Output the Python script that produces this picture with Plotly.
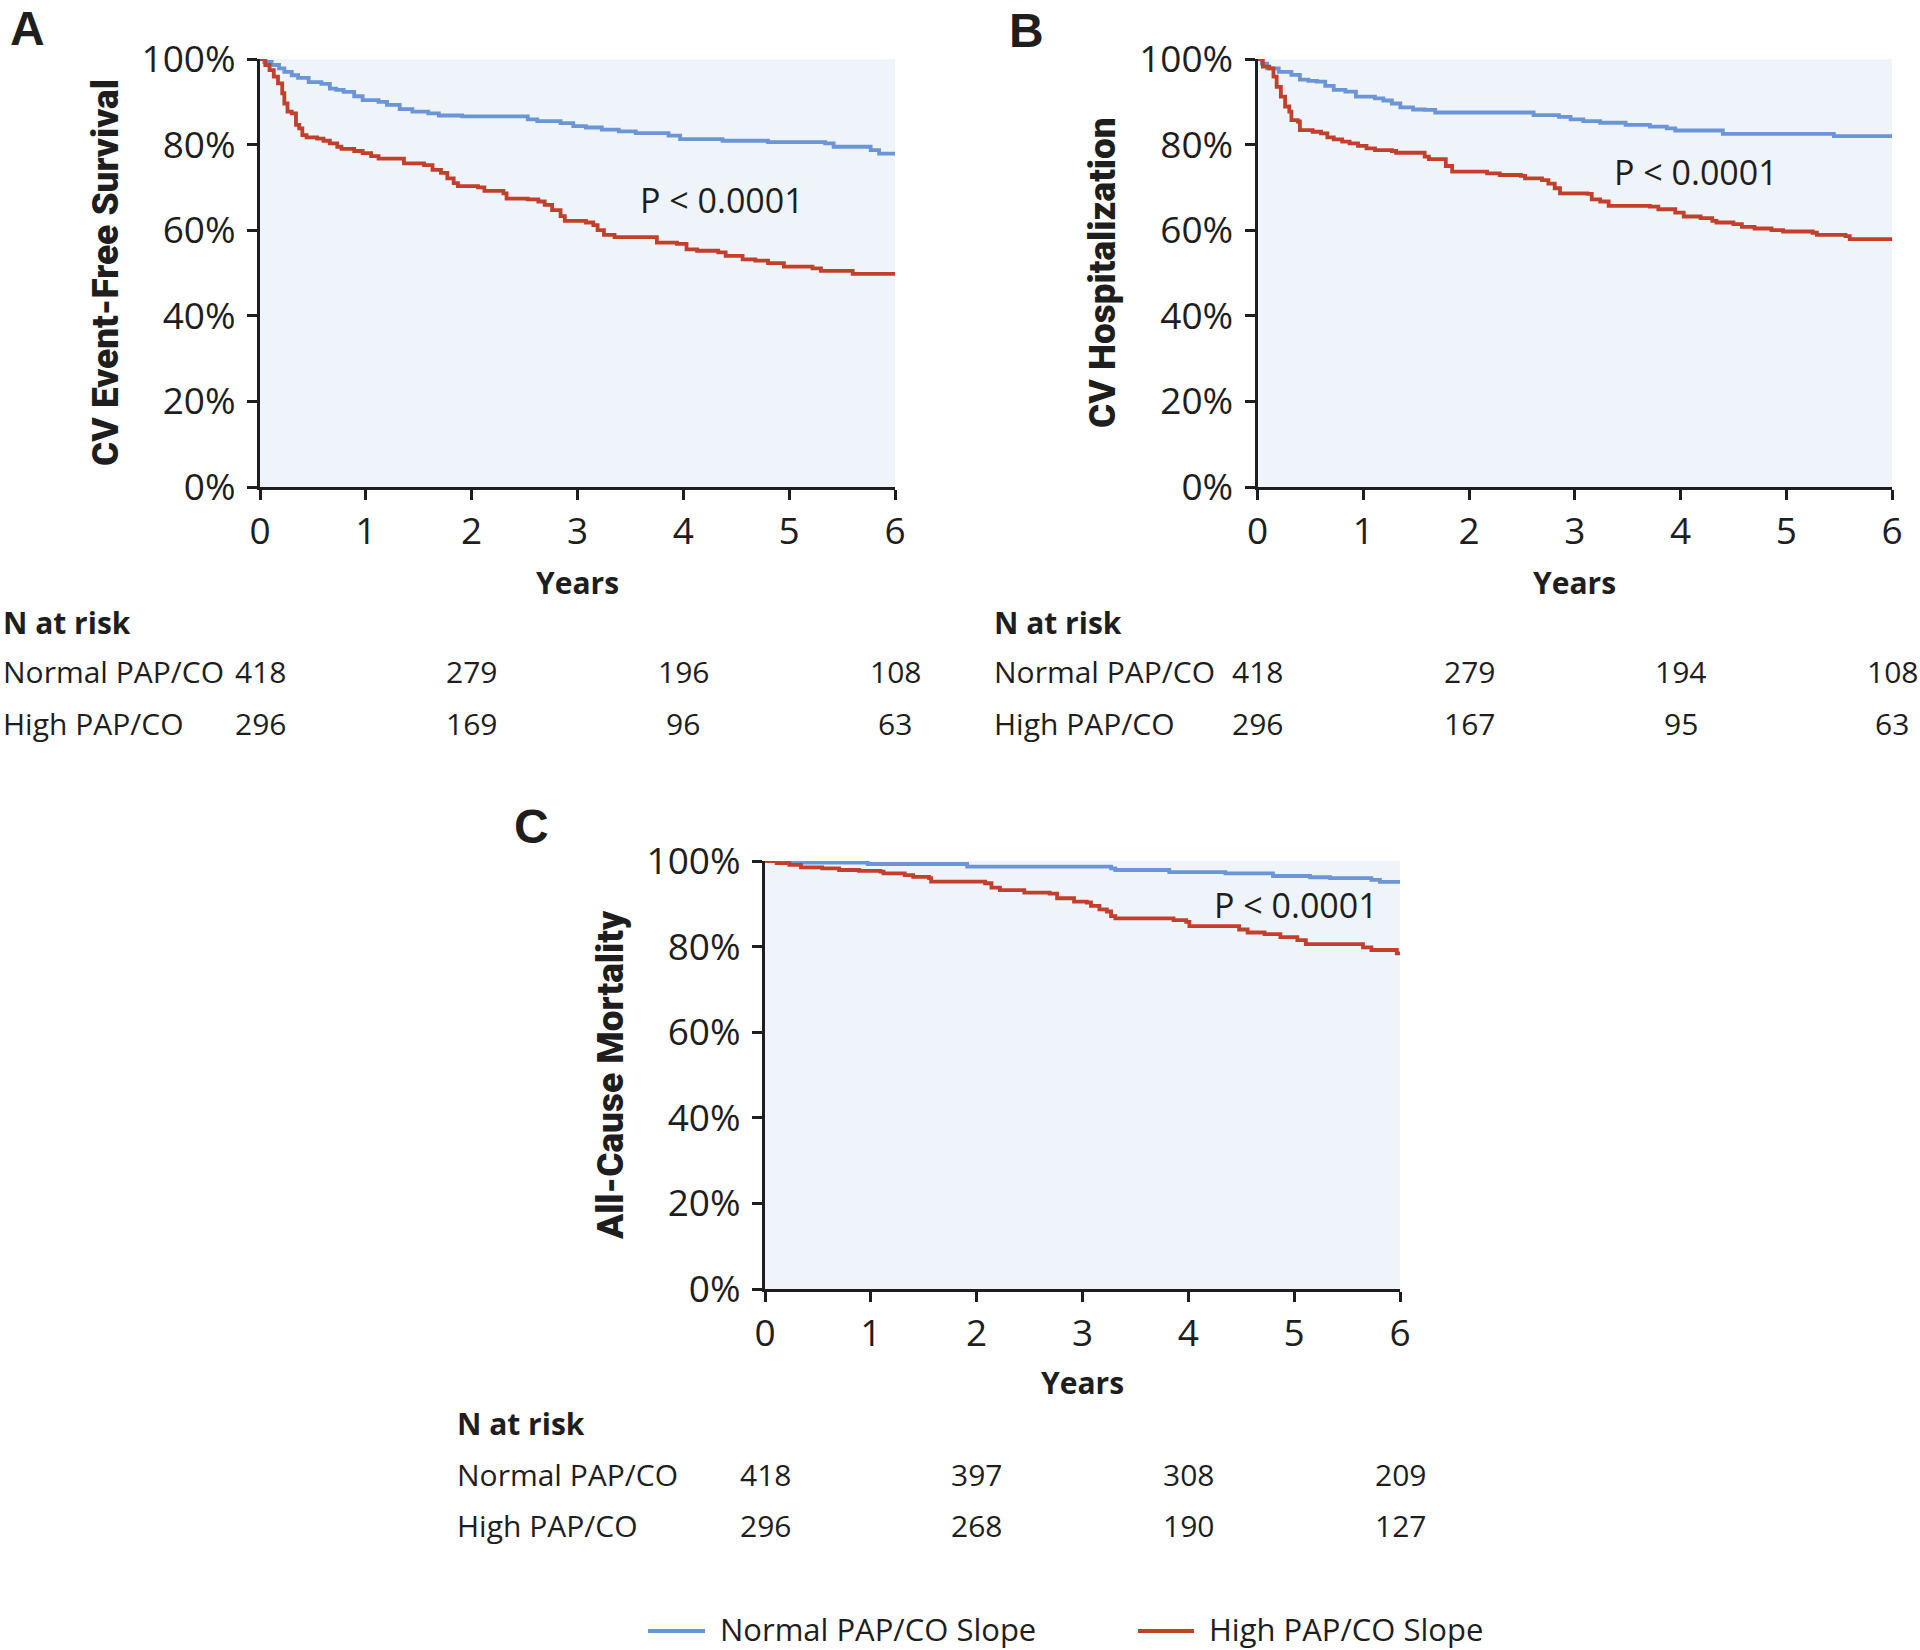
import plotly.graph_objects as go

# ---------------- data ----------------
year_ticks = [0, 1, 2, 3, 4, 5, 6]
pct_ticks = [0, 20, 40, 60, 80, 100]
pct_labels = ["0%", "20%", "40%", "60%", "80%", "100%"]
series_names = ["Normal PAP/CO Slope", "High PAP/CO Slope"]
row_labels = ["Normal PAP/CO", "High PAP/CO"]
panel_titles = ["CV Event-Free Survival", "CV Hospitalization", "All-Cause Mortality"]
panel_letters = ["A", "B", "C"]
p_text = "P < 0.0001"

# Panel A
a_norm_t = [0, 0.04, 0.11, 0.18, 0.23, 0.30, 0.36, 0.46, 0.58, 0.66, 0.72, 0.79, 0.89, 0.97, 1.12, 1.20, 1.32, 1.44, 1.59, 1.69,
            1.91, 2.53, 2.62, 2.84, 2.96, 3.08, 3.23, 3.39, 3.55, 3.86, 3.97, 4.37, 4.80, 5.34, 5.42, 5.77, 5.85, 6.0]
a_norm_s = [100, 99.3, 98.6, 97.8, 97.0, 96.2, 95.6, 94.6, 94.2, 93.1, 92.8, 92.3, 91.3, 90.4, 90.0, 89.3, 88.3, 87.7, 87.3, 86.8,
            86.6, 85.9, 85.5, 85.0, 84.3, 84.0, 83.5, 83.1, 82.7, 82.1, 81.3, 80.9, 80.6, 80.3, 79.5, 78.7, 77.9, 77.9]
a_high_t = [0, 0.05, 0.09, 0.13, 0.17, 0.21, 0.23, 0.26, 0.30, 0.34, 0.37, 0.40, 0.44, 0.54, 0.60, 0.66, 0.73, 0.77, 0.89, 0.97,
            1.05, 1.12, 1.36, 1.55, 1.63, 1.71, 1.77, 1.83, 1.87, 2.06, 2.12, 2.30, 2.33, 2.53, 2.63, 2.69, 2.76, 2.84, 2.88, 3.08,
            3.15, 3.19, 3.25, 3.35, 3.75, 3.94, 4.03, 4.13, 4.33, 4.40, 4.56, 4.68, 4.80, 4.95, 5.22, 5.30, 5.60, 6.0]
a_high_s = [100, 98.6, 97.4, 95.9, 94.3, 92.0, 89.6, 87.7, 87.3, 84.6, 83.8, 82.2, 81.7, 81.4, 80.9, 80.3, 79.5, 79.0, 78.5, 78.0,
            77.3, 76.7, 75.6, 75.2, 74.1, 73.4, 72.1, 71.0, 70.3, 70.0, 69.2, 68.6, 67.4, 67.2, 66.7, 65.9, 64.7, 63.3, 62.2, 61.8,
            61.2, 60.0, 58.9, 58.4, 57.1, 56.8, 55.5, 55.2, 54.8, 54.0, 53.2, 52.9, 52.3, 51.5, 51.1, 50.5, 49.8, 49.8]

# Panel B
b_norm_t = [0, 0.04, 0.09, 0.20, 0.32, 0.40, 0.48, 0.56, 0.64, 0.72, 0.83, 0.93, 1.11, 1.19, 1.27, 1.35, 1.47, 1.58, 1.68, 2.61,
            2.85, 2.96, 3.08, 3.24, 3.48, 3.71, 3.87, 3.95, 4.40, 5.45, 6.0]
b_norm_s = [100, 98.9, 97.8, 97.0, 96.3, 95.2, 94.9, 94.7, 93.7, 92.8, 92.4, 91.2, 90.8, 90.3, 89.6, 88.7, 88.2, 88.1, 87.5, 86.9,
            86.5, 85.9, 85.5, 85.1, 84.6, 84.2, 83.8, 83.3, 82.5, 82.0, 82.0]
b_high_t = [0, 0.05, 0.11, 0.15, 0.18, 0.22, 0.26, 0.30, 0.32, 0.38, 0.40, 0.52, 0.60, 0.66, 0.72, 0.80, 0.87, 0.95, 1.03, 1.11,
            1.27, 1.31, 1.58, 1.62, 1.78, 1.84, 2.17, 2.29, 2.49, 2.53, 2.69, 2.75, 2.81, 2.86, 3.12, 3.16, 3.24, 3.32, 3.71, 3.79,
            3.95, 4.03, 4.19, 4.30, 4.34, 4.50, 4.58, 4.70, 4.86, 4.97, 5.25, 5.29, 5.56, 5.60, 6.0]
b_high_s = [100, 98.2, 97.8, 95.9, 93.5, 91.2, 88.9, 87.7, 85.7, 85.4, 83.4, 83.0, 82.6, 81.7, 81.2, 80.7, 80.3, 79.7, 79.1, 78.7,
            78.5, 78.1, 77.2, 76.6, 75.0, 73.7, 73.3, 72.9, 72.7, 72.1, 71.7, 70.9, 69.8, 68.6, 68.5, 67.2, 66.7, 65.7, 65.5, 64.9,
            64.1, 63.2, 62.8, 62.2, 61.8, 61.4, 60.8, 60.4, 60.0, 59.7, 59.4, 58.9, 58.6, 57.9, 57.9]

# Panel C
c_norm_t = [0, 0.19, 0.34, 0.97, 1.91, 3.27, 3.31, 3.82, 4.35, 4.80, 5.15, 5.34, 5.73, 5.81, 6.0]
c_norm_s = [100, 99.8, 99.6, 99.3, 98.7, 98.3, 97.9, 97.4, 97.1, 96.5, 96.2, 96.0, 95.6, 95.1, 95.1]
c_high_t = [0, 0.11, 0.23, 0.34, 0.54, 0.70, 0.89, 1.09, 1.12, 1.32, 1.40, 1.55, 1.57, 2.08, 2.14, 2.22, 2.45, 2.69, 2.76, 2.92,
            3.04, 3.08, 3.16, 3.23, 3.27, 3.31, 3.86, 3.98, 4.01, 4.48, 4.56, 4.72, 4.87, 5.03, 5.11, 5.65, 5.73, 5.97, 6.0]
c_high_s = [100, 99.5, 99.1, 98.5, 98.3, 97.9, 97.7, 97.5, 97.1, 96.7, 96.3, 96.0, 95.2, 94.8, 93.8, 93.2, 92.6, 92.4, 91.3, 90.5,
            90.3, 89.5, 88.7, 88.2, 87.1, 86.6, 86.2, 85.8, 84.8, 84.0, 83.3, 82.9, 82.2, 81.5, 80.6, 79.8, 79.2, 78.4, 78.0]

# Numbers at risk
risk_years = [0, 2, 4, 6]
a_risk_normal = [418, 279, 196, 108]
a_risk_high = [296, 169, 96, 63]
b_risk_normal = [418, 279, 194, 108]
b_risk_high = [296, 167, 95, 63]
c_risk_normal = [418, 397, 308, 209]
c_risk_high = [296, 268, 190, 127]

# P-value label positions (years, percent)
p_pos = [(4.37, 67.1), (4.15, 73.5), (5.02, 89.7)]

# ---------------- styling / geometry ----------------
BLUE = "#6B95D6"
RED = "#C23F2C"
INK = "#1E1E1E"
BG = "#EFF3FA"
FONT = "Open Sans"
TITLE_FONT = "Roboto"

W, H = 1920, 1650   # body margin is removed by post_script so the figure fills the window


def px(x):
    return x / W


def py(y):
    return 1 - y / H


fig = go.Figure()

panels = [
    dict(xa="x", ya="y", xd=(260, 895), yd=(487, 59),
         curves=[(a_norm_t, a_norm_s, BLUE), (a_high_t, a_high_s, RED)],
         risk=(a_risk_normal, a_risk_high), tab_left=1, tab_y=(622, 672, 724),
         ytitle_x=105, years_y=582, letter=(8, 0)),
    dict(xa="x2", ya="y2", xd=(1257.6, 1892), yd=(487, 59),
         curves=[(b_norm_t, b_norm_s, BLUE), (b_high_t, b_high_s, RED)],
         risk=(b_risk_normal, b_risk_high), tab_left=992, tab_y=(622, 672, 724),
         ytitle_x=1102, years_y=582, letter=(1007, 2)),
    dict(xa="x3", ya="y3", xd=(765, 1400), yd=(1289, 861),
         curves=[(c_norm_t, c_norm_s, BLUE), (c_high_t, c_high_s, RED)],
         risk=(c_risk_normal, c_risk_high), tab_left=455, tab_y=(1423, 1474, 1525),
         ytitle_x=610, years_y=1382, letter=(512, 798)),
]

annotations = []
layout_axes = {}

for i, p in enumerate(panels):
    for (t, s, col), nm in zip(p["curves"], series_names):
        fig.add_trace(go.Scatter(x=t, y=s, mode="lines", line=dict(color=col, width=3.8, shape="hv"),
                                 name=nm, showlegend=False, xaxis=p["xa"], yaxis=p["ya"],
                                 hoverinfo="skip"))
    xkey = "xaxis" if i == 0 else f"xaxis{i + 1}"
    ykey = "yaxis" if i == 0 else f"yaxis{i + 1}"
    layout_axes[xkey] = dict(
        domain=[px(p["xd"][0]), px(p["xd"][1])], anchor=p["ya"], range=[0, 6],
        tickmode="array", tickvals=year_ticks, ticktext=[str(v) for v in year_ticks],
        showline=True, linecolor=INK, linewidth=3,
        ticks="outside", ticklen=10, tickwidth=3, tickcolor=INK,
        showgrid=False, zeroline=False, ticklabelstandoff=0, automargin=False,
        tickfont=dict(family=FONT, size=37, color=INK))
    layout_axes[ykey] = dict(
        domain=[py(p["yd"][0]), py(p["yd"][1])], anchor=p["xa"], range=[0, 100],
        tickmode="array", tickvals=pct_ticks, ticktext=pct_labels,
        showline=True, linecolor=INK, linewidth=3,
        ticks="outside", ticklen=10, tickwidth=3, tickcolor=INK,
        showgrid=False, zeroline=False, ticklabelstandoff=4, automargin=False,
        tickfont=dict(family=FONT, size=37, color=INK))

    # y-axis title
    annotations.append(dict(text=panel_titles[i], xref="paper", yref="paper",
                            x=px(p["ytitle_x"]), y=py((p["yd"][0] + p["yd"][1]) / 2),
                            textangle=-90, xanchor="center", yanchor="middle", showarrow=False,
                            font=dict(family=TITLE_FONT, size=37, color=INK, weight=900)))
    # x-axis title
    annotations.append(dict(text="<b>Years</b>", xref=p["xa"], yref="paper", x=3, y=py(p["years_y"]),
                            xanchor="center", yanchor="middle", showarrow=False,
                            font=dict(family=FONT, size=30, color=INK)))
    # panel letter
    annotations.append(dict(text=f"<b>{panel_letters[i]}</b>", xref="paper", yref="paper",
                            x=px(p["letter"][0]), y=py(p["letter"][1]), xanchor="left", yanchor="top",
                            showarrow=False, font=dict(family="Liberation Sans", size=48, color=INK)))
    # p-value
    annotations.append(dict(text=p_text, xref=p["xa"], yref=p["ya"], x=p_pos[i][0], y=p_pos[i][1],
                            xanchor="center", yanchor="middle", showarrow=False,
                            font=dict(family=FONT, size=34, color=INK)))
    # risk table
    ty = p["tab_y"]
    annotations.append(dict(text="<b>N at risk</b>", xref="paper", yref="paper", x=px(p["tab_left"]),
                            y=py(ty[0]), xanchor="left", yanchor="middle", showarrow=False,
                            font=dict(family=FONT, size=30, color=INK)))
    for r, (lab, counts) in enumerate(zip(row_labels, p["risk"])):
        annotations.append(dict(text=lab, xref="paper", yref="paper", x=px(p["tab_left"]),
                                y=py(ty[r + 1]), xanchor="left", yanchor="middle", showarrow=False,
                                font=dict(family=FONT, size=30, color=INK)))
        for yr, n in zip(risk_years, counts):
            annotations.append(dict(text=str(n), xref=p["xa"], yref="paper", x=yr, y=py(ty[r + 1]),
                                    xanchor="center", yanchor="middle", showarrow=False,
                                    font=dict(family=FONT, size=30, color=INK)))

# custom legend
shapes = []
legend_items = [(648, 705, 718, BLUE), (1138, 1194, 1207, RED)]
for (x0, x1, tx, col), nm in zip(legend_items, series_names):
    shapes.append(dict(type="line", xref="paper", yref="paper", x0=px(x0), x1=px(x1),
                       y0=py(1631), y1=py(1631), line=dict(color=col, width=4)))
    annotations.append(dict(text=nm, xref="paper", yref="paper", x=px(tx), y=py(1629),
                            xanchor="left", yanchor="middle", showarrow=False,
                            font=dict(family=FONT, size=31, color=INK)))

fig.update_layout(
    width=W, height=H, margin=dict(l=0, r=0, t=0, b=0, pad=0, autoexpand=False),
    paper_bgcolor="white", plot_bgcolor=BG, showlegend=False,
    annotations=annotations, shapes=shapes,
    font=dict(family=FONT, color=INK),
    **layout_axes,
)

fig.write_html("out.html", config={"displayModeBar": False},
               post_script="document.body.style.margin='0px';document.body.style.overflow='hidden';")
